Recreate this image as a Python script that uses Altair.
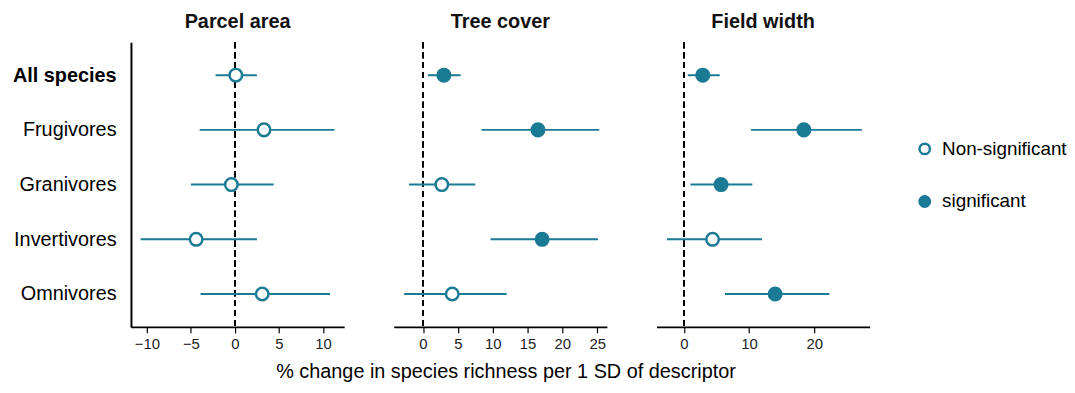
import altair as alt
import pandas as pd

groups = ["All species", "Frugivores", "Granivores", "Invertivores", "Omnivores"]
panels = ["Parcel area", "Tree cover", "Field width"]

parcel_est = [0.1, 3.3, -0.4, -4.4, 3.1]
parcel_lo = [-2.2, -4.0, -5.0, -10.7, -3.9]
parcel_hi = [2.5, 11.3, 4.4, 2.5, 10.8]
parcel_sig = ["Non-significant"] * 5

tree_est = [3.0, 16.5, 2.7, 17.1, 4.2]
tree_lo = [0.7, 8.4, -2.0, 9.7, -2.7]
tree_hi = [5.4, 25.3, 7.5, 25.1, 12.0]
tree_sig = ["significant", "significant", "Non-significant", "significant", "Non-significant"]

field_est = [2.9, 18.4, 5.7, 4.4, 14.0]
field_lo = [0.6, 10.3, 1.0, -2.6, 6.3]
field_hi = [5.5, 27.3, 10.5, 12.0, 22.3]
field_sig = ["significant", "significant", "significant", "Non-significant", "significant"]

x_domains = [[-11.8, 12.4], [-4.2, 26.4], [-4.2, 28.5]]
x_ticks = [[-10, -5, 0, 5, 10], [0, 5, 10, 15, 20, 25], [0, 10, 20]]

TEAL = "#1b7a94"
FONT = "Liberation Sans"

series = [
    (parcel_est, parcel_lo, parcel_hi, parcel_sig),
    (tree_est, tree_lo, tree_hi, tree_sig),
    (field_est, field_lo, field_hi, field_sig),
]

charts = []
for i, (name, (est, lo, hi, sig)) in enumerate(zip(panels, series)):
    df = pd.DataFrame({"group": groups, "est": est, "lo": lo, "hi": hi, "sig": sig})
    xscale = alt.Scale(domain=x_domains[i], nice=False, zero=False)
    xaxis = alt.Axis(values=x_ticks[i], title=None, grid=False, domainColor="black",
                     tickColor="black", tickSize=6, labelFontSize=15, labelColor="#222",
                     labelPadding=4, domainWidth=2, tickWidth=1.2)
    if i == 0:
        yaxis = alt.Axis(title=None, ticks=False, domainColor="black", domainWidth=2,
                         labelFontSize=20, labelColor="black", labelPadding=15, grid=False,
                         labelFontWeight=alt.ExprRef(expr="datum.value == 'All species' ? 'bold' : 'normal'"))
    else:
        yaxis = None
    yenc = alt.Y("group:N", sort=groups, scale=alt.Scale(type="point", domain=groups, padding=0.6), axis=yaxis)

    base = alt.Chart(df)
    zero = base.mark_rule(color="black", strokeDash=[6, 4], strokeWidth=1.7).encode(
        x=alt.datum(0, scale=xscale, axis=xaxis)
    )
    rules = base.mark_rule(color=TEAL, strokeWidth=2).encode(
        x=alt.X("lo:Q", scale=xscale, axis=xaxis), x2="hi:Q", y=yenc
    )
    pts = base.mark_point(shape="circle", filled=True, size=160, stroke=TEAL, strokeWidth=2.5, opacity=1).encode(
        x=alt.X("est:Q", scale=xscale, axis=xaxis),
        y=yenc,
        fill=alt.Fill("sig:N", scale=alt.Scale(domain=["Non-significant", "significant"], range=["white", TEAL]),
                      legend=alt.Legend(title=None, orient="none", legendX=791, legendY=98,
                                        symbolStrokeColor=TEAL, symbolStrokeWidth=2.5, symbolSize=110,
                                        labelFontSize=19, labelColor="black", rowPadding=32,
                                        symbolType="circle", labelOffset=8)),
    )
    layer = alt.layer(zero, rules, pts).properties(
        width=215, height=287,
        title=alt.TitleParams(name, fontSize=20, fontWeight="bold", color="#111", offset=10),
    )
    charts.append(layer)

chart = alt.hconcat(*charts, spacing=50).properties(
    title=alt.TitleParams("% change in species richness per 1 SD of descriptor", orient="bottom",
                          fontSize=20, fontWeight="normal", color="black", anchor="middle", offset=11, dx=-34),
    padding={"left": 4, "top": 2, "right": 0, "bottom": 0},
).configure(font=FONT).configure_view(stroke=None).configure_axis(labelFont=FONT)

chart.save("out.html", embed_options={"renderer": "svg", "actions": False})
